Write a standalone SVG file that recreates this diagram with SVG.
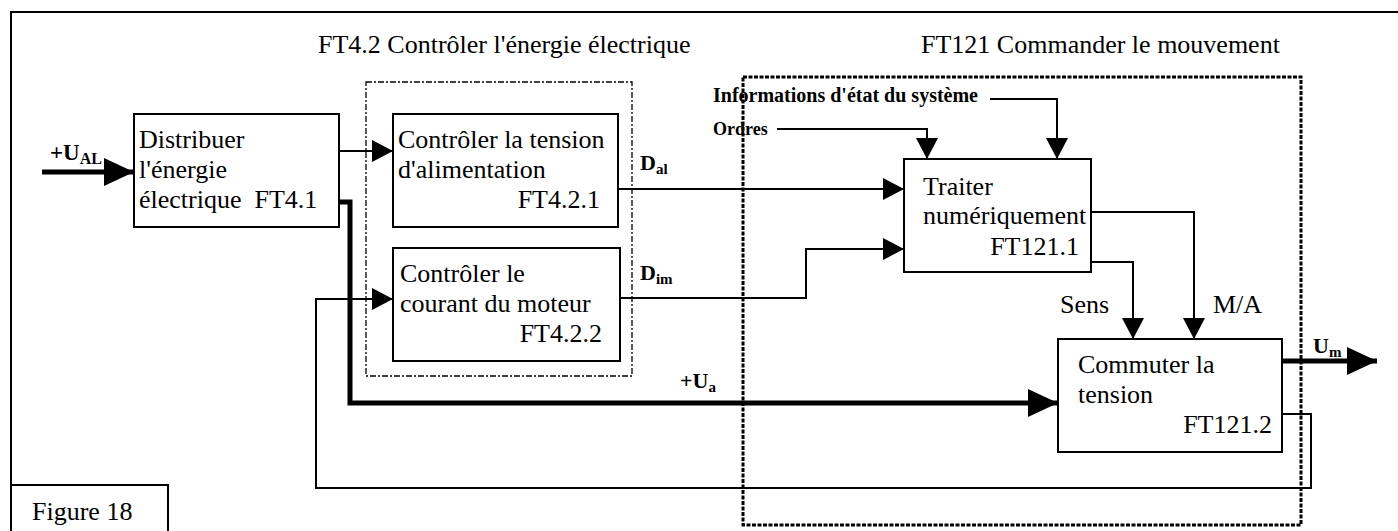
<svg xmlns="http://www.w3.org/2000/svg" width="1398" height="531" viewBox="0 0 1398 531">
<style>
.box{fill:#fff;stroke:#000;stroke-width:2}
.t{font-family:"Liberation Serif","Times New Roman",serif;font-size:26px;fill:#000}
.b{font-family:"Liberation Serif","Times New Roman",serif;font-weight:bold;fill:#000}
.c{fill:none;stroke:#000;stroke-width:2}
.k{fill:none;stroke:#000;stroke-width:5}
.g1{fill:none;stroke:#000;stroke-width:1.3;stroke-dasharray:6 2 2 2}
.g2{fill:none;stroke:#000;stroke-width:3;stroke-dasharray:4 1.5}
</style>
<defs>
<marker id="a" markerUnits="userSpaceOnUse" markerWidth="21" markerHeight="22" refX="21" refY="11" orient="auto"><path d="M0,0 L21,11 L0,22 z" fill="#000"/></marker>
<marker id="A" markerUnits="userSpaceOnUse" markerWidth="30" markerHeight="28" refX="30" refY="14" orient="auto"><path d="M0,0 L30,14 L0,28 z" fill="#000"/></marker>
</defs>
<rect x="0" y="0" width="1398" height="531" fill="#fff"/>
<rect x="11" y="12" width="1400" height="540" fill="none" stroke="#000" stroke-width="2"/>
<g id="group-ft42">
<rect class="g1" x="366" y="82" width="266" height="294"/>
<text class="t" x="318" y="53">FT4.2 Contrôler l'énergie électrique</text>
</g>
<g id="group-ft121">
<rect class="g2" x="743" y="77" width="558" height="448"/>
<text class="t" x="921" y="53">FT121 Commander le mouvement</text>
</g>
<g id="connectors">
<polyline class="k" points="42,172 134,172" marker-end="url(#A)"/>
<polyline class="c" points="339,151 393,151" marker-end="url(#a)"/>
<polyline class="k" points="339,202 350,202 350,403 1058,403" marker-end="url(#A)"/>
<polyline class="c" points="618,189 904,189" marker-end="url(#a)"/>
<polyline class="c" points="620,298 806,298 806,249 904,249" marker-end="url(#a)"/>
<polyline class="c" points="777,129 927,129 927,159" marker-end="url(#a)"/>
<polyline class="c" points="990,99 1057,99 1057,159" marker-end="url(#a)"/>
<polyline class="c" points="1091,262 1133,262 1133,339" marker-end="url(#a)"/>
<polyline class="c" points="1091,212 1194,212 1194,339" marker-end="url(#a)"/>
<polyline class="k" points="1282,361 1377,361" marker-end="url(#A)"/>
<polyline class="c" points="1282,414 1311,414 1311,488 316,488 316,299 393,299" marker-end="url(#a)"/>
</g>
<g id="labels">
<text class="b" x="50" y="160" font-size="23">+U<tspan font-size="16" dy="4">AL</tspan></text>
<text class="b" x="640" y="170" font-size="22">D<tspan font-size="15" dy="4">al</tspan></text>
<text class="b" x="640" y="280" font-size="22">D<tspan font-size="15" dy="4">im</tspan></text>
<text class="b" x="680" y="388" font-size="22">+U<tspan font-size="15" dy="4">a</tspan></text>
<text class="b" x="1313" y="353" font-size="22">U<tspan font-size="15" dy="4">m</tspan></text>
<text class="b" x="713" y="102" font-size="20">Informations d'état du système</text>
<text class="b" x="713" y="135" font-size="18">Ordres</text>
<text class="t" x="1060" y="313">Sens</text>
<text class="t" x="1213" y="313">M/A</text>
</g>
<g id="node-ft41">
<rect class="box" x="134" y="114" width="205" height="113"/>
<text class="t" x="139" y="148">Distribuer</text>
<text class="t" x="139" y="178">l'énergie</text>
<text class="t" x="139" y="208">électrique&#160; FT4.1</text>
</g>
<g id="node-ft421">
<rect class="box" x="393" y="114" width="225" height="113"/>
<text class="t" x="398" y="148">Contrôler la tension</text>
<text class="t" x="398" y="178">d'alimentation</text>
<text class="t" x="600" y="208" text-anchor="end">FT4.2.1</text>
</g>
<g id="node-ft422">
<rect class="box" x="393" y="248" width="227" height="113"/>
<text class="t" x="400" y="282">Contrôler le</text>
<text class="t" x="400" y="312">courant du moteur</text>
<text class="t" x="602" y="342" text-anchor="end">FT4.2.2</text>
</g>
<g id="node-ft1211">
<rect class="box" x="904" y="159" width="187" height="113"/>
<text class="t" x="923" y="195">Traiter</text>
<text class="t" x="923" y="224">numériquement</text>
<text class="t" x="1079" y="255" text-anchor="end">FT121.1</text>
</g>
<g id="node-ft1212">
<rect class="box" x="1058" y="339" width="224" height="113"/>
<text class="t" x="1078" y="373">Commuter la</text>
<text class="t" x="1078" y="403">tension</text>
<text class="t" x="1272" y="433" text-anchor="end">FT121.2</text>
</g>
<g id="node-figure">
<rect class="box" x="11" y="485" width="157" height="60"/>
<text class="t" x="32" y="520">Figure 18</text>
</g>
</svg>
